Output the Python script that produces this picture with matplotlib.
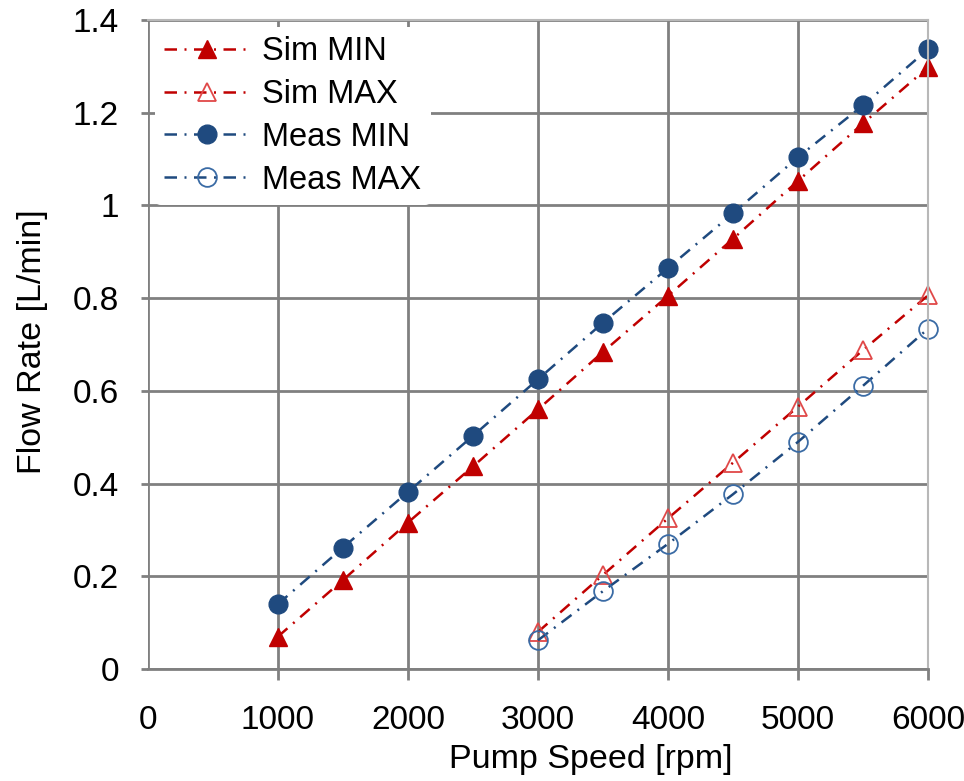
import matplotlib.pyplot as plt

plt.rcParams['font.family'] = ['Liberation Sans', 'DejaVu Sans']

# pump speed [rpm]
speed_min = [1000, 1500, 2000, 2500, 3000, 3500, 4000, 4500, 5000, 5500, 6000]
speed_max = [3000, 3500, 4000, 4500, 5000, 5500, 6000]

# flow rate [L/min]
sim_min = [0.07, 0.192, 0.316, 0.437, 0.56, 0.684, 0.805, 0.928, 1.053, 1.177, 1.298]
sim_max = [0.08, 0.203, 0.325, 0.445, 0.566, 0.688, 0.806]
meas_min = [0.14, 0.262, 0.382, 0.503, 0.625, 0.747, 0.865, 0.983, 1.104, 1.216, 1.337]
meas_max = [0.062, 0.168, 0.27, 0.377, 0.49, 0.611, 0.734]

red = '#C00000'
blue = '#1F4A7F'
dash = (0, (5, 3, 0.8, 3))

fig = plt.figure(figsize=(9.64, 7.81), dpi=100)
ax = fig.add_axes([0.1535, 0.1434, 0.8092, 0.831])

ax.plot(speed_min, sim_min, color=red, lw=1.8, linestyle=dash, marker='^',
        markersize=13, markerfacecolor=red, markeredgecolor=red,
        clip_on=False, label='Sim MIN')
ax.plot(speed_max, sim_max, color=red, lw=1.8, linestyle=dash, marker='^',
        markersize=13, markerfacecolor='none', markeredgecolor='#E04848',
        markeredgewidth=1.3, clip_on=False, label='Sim MAX')
ax.plot(speed_min, meas_min, color=blue, lw=1.8, linestyle=dash, marker='o',
        markersize=13.5, markerfacecolor=blue, markeredgecolor=blue,
        clip_on=False, label='Meas MIN')
ax.plot(speed_max, meas_max, color=blue, lw=1.8, linestyle=dash, marker='o',
        markersize=13.5, markerfacecolor='none', markeredgecolor='#3A6BA5',
        markeredgewidth=1.3, clip_on=False, label='Meas MAX')

ax.set_xlim(0, 6000)
ax.set_ylim(0, 1.4)
ax.set_xticks(range(0, 6001, 1000))
ax.set_yticks([0, 0.2, 0.4, 0.6, 0.8, 1, 1.2, 1.4])
ax.set_yticklabels(['0', '0.2', '0.4', '0.6', '0.8', '1', '1.2', '1.4'])

ax.grid(True, color='#808080', lw=2)
ax.set_axisbelow(True)
ax.spines['left'].set_visible(False)
ax.spines['bottom'].set_color('#808080')
ax.spines['bottom'].set_linewidth(2)
ax.spines['top'].set_color('#B8B8B8')
ax.spines['right'].set_color('#B8B8B8')
ax.spines['top'].set_linewidth(1.5)
ax.spines['right'].set_linewidth(1.5)

ax.tick_params(axis='x', direction='out', length=8, width=2, color='#808080',
               labelsize=24, pad=18)
ax.tick_params(axis='y', direction='out', length=5, width=2, color='#808080',
               labelsize=24, pad=16)
ax.xaxis.get_major_ticks()[0].tick1line.set_visible(False)

ax.set_xlabel('Pump Speed [rpm]', fontsize=24.5)
ax.xaxis.set_label_coords(0.567, -0.115)
ax.set_ylabel('Flow Rate [L/min]', fontsize=24.5)
ax.yaxis.set_label_coords(-0.128, 0.505)

leg = ax.legend(loc='upper left', fontsize=23.5, frameon=True, framealpha=1,
                edgecolor='none', handlelength=2.6, handletextpad=0.4,
                labelspacing=0.36, borderaxespad=0.2, borderpad=0.3)
leg.get_frame().set_linewidth(0)

fig.savefig('out.png', dpi=100)
